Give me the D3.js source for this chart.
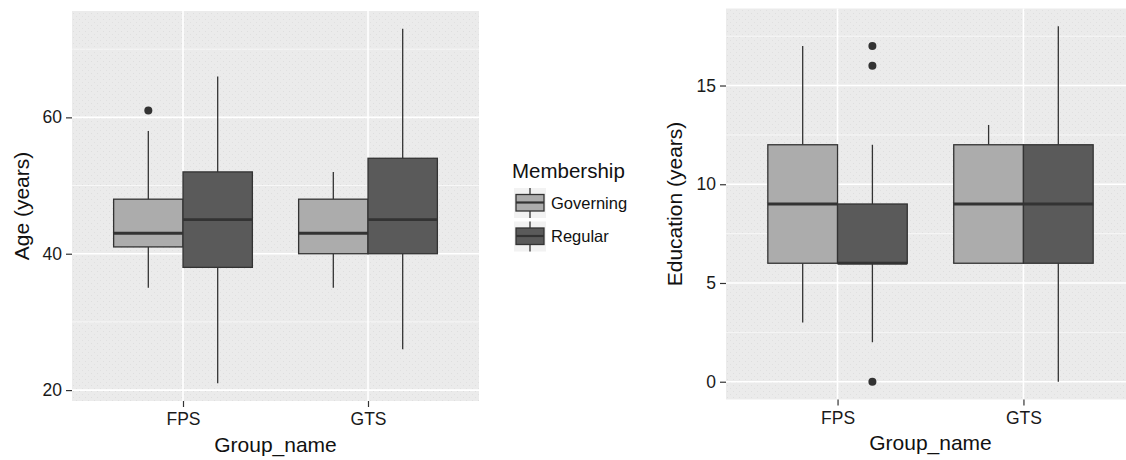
<!DOCTYPE html>
<html>
<head>
<meta charset="utf-8">
<script src="https://cdn.jsdelivr.net/npm/d3@7"></script>
<style>
  html, body { margin: 0; padding: 0; background: #ffffff; }
  svg { display: block; font-family: "Liberation Sans", Arial, sans-serif; }
</style>
</head>
<body>
<svg id="chart" width="1126" height="460"></svg>
<script>
// ---------------- DATA ----------------
const categories = ["FPS", "GTS"];
const seriesNames = ["Governing", "Regular"];

// Age (years): [lower whisker, Q1, median, Q3, upper whisker] per category
const ageGoverning = [[35, 41, 43, 48, 58], [35, 40, 43, 48, 52]];
const ageRegular   = [[21, 38, 45, 52, 66], [26, 40, 45, 54, 73]];
const ageOutlierGroups  = ["FPS"];
const ageOutlierSeries  = ["Governing"];
const ageOutlierValues  = [61];
const ageTicks = [20, 40, 60];
const ageMinorTicks = [30, 50, 70];

// Education (years)
const eduGoverning = [[3, 6, 9, 12, 17], [6, 6, 9, 12, 13]];
const eduRegular   = [[2, 6, 6, 9, 12], [0, 6, 9, 12, 18]];
const eduOutlierGroups = ["FPS", "FPS", "FPS"];
const eduOutlierSeries = ["Regular", "Regular", "Regular"];
const eduOutlierValues = [17, 16, 0];
const eduTicks = [0, 5, 10, 15];
const eduMinorTicks = [2.5, 7.5, 12.5, 17.5];

const fillColors = ["#acacac", "#5a5a5a"];

// ---------------- DRAW ----------------
const svg = d3.select("#chart");
const fill = d3.scaleOrdinal().domain(seriesNames).range(fillColors);

// subtle stipple texture like the reference's print
const defs = svg.append("defs");
const pat = defs.append("pattern").attr("id", "stipple").attr("patternUnits", "userSpaceOnUse")
  .attr("width", 6).attr("height", 6);
pat.append("rect").attr("width", 6).attr("height", 6).attr("fill", "#ebebeb");
pat.append("rect").attr("x", 1).attr("y", 1).attr("width", 1).attr("height", 1).attr("fill", "#dedede");
pat.append("rect").attr("x", 4).attr("y", 4).attr("width", 1).attr("height", 1).attr("fill", "#e0e0e0");

function panel(opts) {
  const g = svg.append("g");
  const {x0, x1, y0, y1} = opts;
  const allVals = [];
  opts.stats.forEach(s => s.forEach(r => allVals.push(r[0], r[4])));
  opts.outVals.forEach(v => allVals.push(v));
  const [mn, mx] = d3.extent(allVals);
  const pad = (mx - mn) * 0.05;
  const y = d3.scaleLinear().domain([mn - pad, mx + pad]).range([y1, y0]);
  const x = d3.scalePoint().domain(categories).range([x0, x1]).padding(0.6);
  const step = x.step();
  const xs = d3.scaleBand().domain(seriesNames).range([-0.375 * step, 0.375 * step]).padding(0);

  // background
  g.append("rect").attr("x", x0).attr("y", y0).attr("width", x1 - x0).attr("height", y1 - y0)
    .attr("fill", "url(#stipple)");
  // minor grid
  g.selectAll(".mg").data(opts.minor).enter().append("line")
    .attr("x1", x0).attr("x2", x1).attr("y1", d => y(d)).attr("y2", d => y(d))
    .attr("stroke", "#f7f7f7").attr("stroke-width", 0.9);
  // major grid
  g.selectAll(".Mg").data(opts.ticks).enter().append("line")
    .attr("x1", x0).attr("x2", x1).attr("y1", d => y(d)).attr("y2", d => y(d))
    .attr("stroke", "#ffffff").attr("stroke-width", 1.6);
  g.selectAll(".Mx").data(categories).enter().append("line")
    .attr("x1", d => x(d)).attr("x2", d => x(d)).attr("y1", y0).attr("y2", y1)
    .attr("stroke", "#ffffff").attr("stroke-width", 1.6);

  // boxes
  opts.stats.forEach((arr, si) => {
    const sname = seriesNames[si];
    arr.forEach((r, ci) => {
      const cx = x(categories[ci]) + xs(sname);
      const w = xs.bandwidth();
      const mid = cx + w / 2;
      const [lo, q1, med, q3, hi] = r;
      const bg = g.append("g");
      bg.append("line").attr("x1", mid).attr("x2", mid).attr("y1", y(hi)).attr("y2", y(q3))
        .attr("stroke", "#333").attr("stroke-width", 1.3);
      bg.append("line").attr("x1", mid).attr("x2", mid).attr("y1", y(q1)).attr("y2", y(lo))
        .attr("stroke", "#333").attr("stroke-width", 1.3);
      bg.append("rect").attr("x", cx).attr("y", y(q3)).attr("width", w).attr("height", y(q1) - y(q3))
        .attr("fill", fill(sname)).attr("stroke", "#333").attr("stroke-width", 1.3);
      bg.append("line").attr("x1", cx).attr("x2", cx + w).attr("y1", y(med)).attr("y2", y(med))
        .attr("stroke", "#333").attr("stroke-width", 2.8);
    });
  });
  // outliers
  opts.outVals.forEach((v, i) => {
    const cx = x(opts.outGroups[i]) + xs(opts.outSeries[i]) + xs.bandwidth() / 2;
    g.append("circle").attr("cx", cx).attr("cy", y(v)).attr("r", 4).attr("fill", "#333");
  });

  // y axis
  const ya = g.append("g").attr("transform", `translate(${x0},0)`)
    .call(d3.axisLeft(y).tickValues(opts.ticks).tickSize(6).tickPadding(4));
  ya.select(".domain").remove();
  ya.selectAll(".tick line").attr("stroke", "#333").attr("stroke-width", 1.2);
  ya.selectAll(".tick text").attr("fill", "#1a1a1a").style("font-size", "17.5px")
    .style("font-family", "'Liberation Sans', Arial, sans-serif");
  // x axis
  const xa = g.append("g").attr("transform", `translate(0,${y1})`)
    .call(d3.axisBottom(x).tickSize(6).tickPadding(6));
  xa.select(".domain").remove();
  xa.selectAll(".tick line").attr("stroke", "#333").attr("stroke-width", 1.2);
  xa.selectAll(".tick text").attr("fill", "#1a1a1a").style("font-size", "17.5px")
    .style("font-family", "'Liberation Sans', Arial, sans-serif");

  // titles
  g.append("text").attr("x", (x0 + x1) / 2).attr("y", opts.xTitleY)
    .attr("text-anchor", "middle").attr("fill", "#111").style("font-size", "21px")
    .text("Group_name");
  g.append("text").attr("transform", `translate(${opts.yTitleX},${(y0 + y1) / 2}) rotate(-90)`)
    .attr("text-anchor", "middle").attr("fill", "#111").style("font-size", "21px")
    .text(opts.yTitle);
}

panel({x0: 72, x1: 479, y0: 11, y1: 401, stats: [ageGoverning, ageRegular],
  outGroups: ageOutlierGroups, outSeries: ageOutlierSeries, outVals: ageOutlierValues,
  ticks: ageTicks, minor: ageMinorTicks, yTitle: "Age (years)", yTitleX: 29, xTitleY: 452});

panel({x0: 726, x1: 1135, y0: 8.5, y1: 399.5, stats: [eduGoverning, eduRegular],
  outGroups: eduOutlierGroups, outSeries: eduOutlierSeries, outVals: eduOutlierValues,
  ticks: eduTicks, minor: eduMinorTicks, yTitle: "Education (years)", yTitleX: 682, xTitleY: 450});

// legend
const lg = svg.append("g");
lg.append("text").attr("x", 512).attr("y", 178).attr("fill", "#111").style("font-size", "20.5px")
  .text("Membership");
seriesNames.forEach((s, i) => {
  const top = 188 + i * 33.5;
  const k = lg.append("g").attr("transform", `translate(514,${top})`);
  k.append("rect").attr("x", 0).attr("y", 0).attr("width", 32).attr("height", 30).attr("fill", "#f2f2f2");
  k.append("line").attr("x1", 16).attr("x2", 16).attr("y1", 0).attr("y2", 30)
    .attr("stroke", "#333").attr("stroke-width", 1.3);
  k.append("rect").attr("x", 2).attr("y", 6.5).attr("width", 28).attr("height", 16.5)
    .attr("fill", fill(s)).attr("stroke", "#333").attr("stroke-width", 1.3);
  k.append("line").attr("x1", 2).attr("x2", 30).attr("y1", 14.5).attr("y2", 14.5)
    .attr("stroke", "#333").attr("stroke-width", 2.2);
  lg.append("text").attr("x", 551).attr("y", top + 15).attr("dy", "0.35em")
    .attr("fill", "#111").style("font-size", "16.5px").text(s);
});
</script>
</body>
</html>
